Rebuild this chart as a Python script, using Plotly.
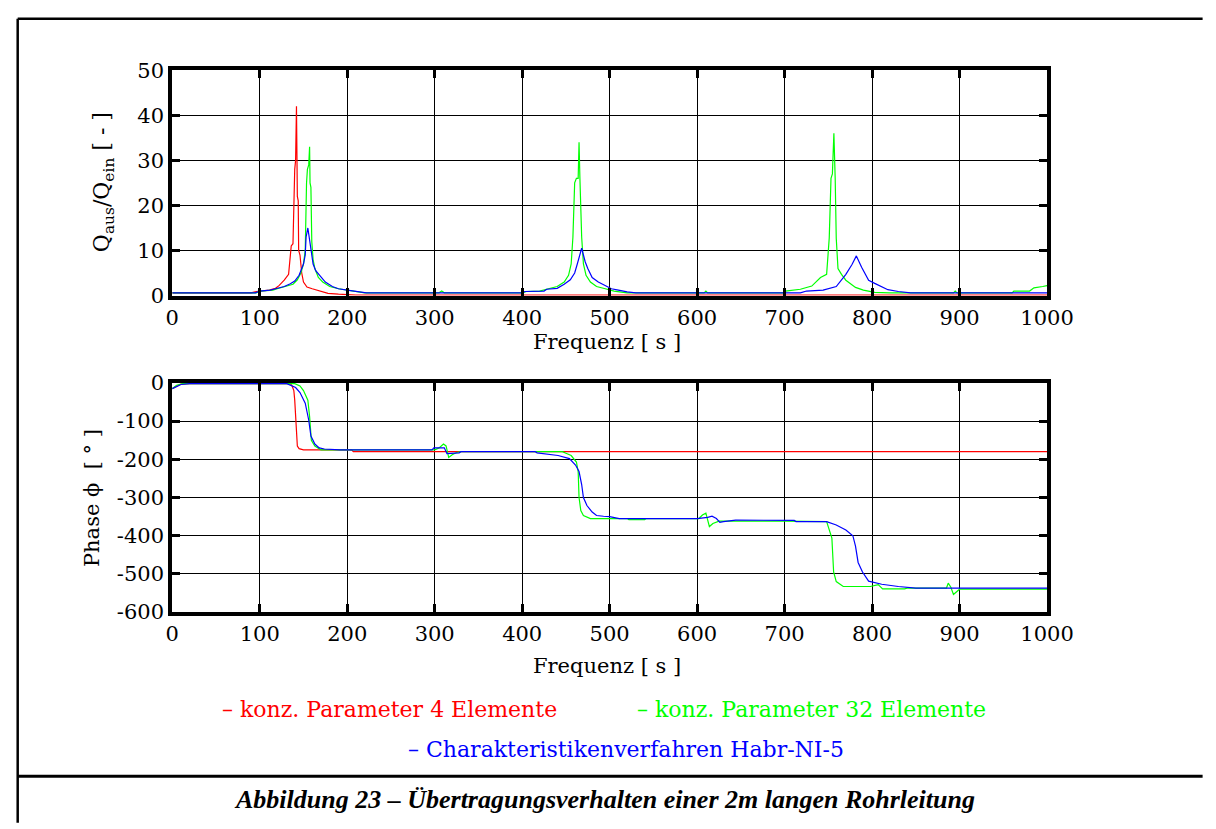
import plotly.graph_objects as go

# ---------------- data ----------------
amp_f_red = [0, 90, 96, 111, 118, 122, 128, 133, 136, 138, 140, 141, 142, 143, 144, 144.5, 146, 148, 150, 154, 160, 167, 178, 190, 210, 1000]
amp_red = [0.6, 0.6, 0.9, 1.2, 1.6, 2.2, 3.4, 4.7, 11, 11.5, 28, 30, 42, 22, 21, 10, 9, 5, 3, 1.9, 1.5, 1.1, 0.5, 0.3, 0.1, 0.1]

amp_f_green = [0, 96, 100, 115, 120, 130, 138, 143, 147, 150, 152, 153.5, 154.5, 156, 157, 157.5, 158.5, 159.5, 161, 163, 167, 172, 180, 190, 200, 210, 220,
               305, 308, 311, 400, 405, 420, 430, 440, 448, 453, 456, 458, 460, 462, 464, 465, 466, 468, 470, 473, 478, 485, 495, 505, 520,
               608, 610, 612, 700, 701, 718, 731, 741, 748, 751, 753, 754.6, 756.3, 757.8, 759, 761, 765, 770, 781, 790, 803, 820,
               893, 895, 897, 960, 962, 980, 985, 995, 1000]
amp_green = [0.6, 0.6, 1.0, 1.2, 1.5, 2.0, 2.5, 3.5, 5, 7, 10, 25, 28, 29, 33, 25, 24, 12, 8, 6, 4, 3, 2, 1.5, 1.2, 0.8, 0.6,
             0.6, 1.0, 0.6, 0.6, 0.9, 1.0, 1.5, 2.0, 3.0, 4.5, 7, 13, 25, 26, 26, 34, 26, 13, 7, 4.5, 3, 2, 1.5, 1.0, 0.6,
             0.6, 1.0, 0.6, 0.6, 1.0, 1.4, 2.1, 4.0, 4.7, 12.8, 26, 27, 36, 26, 12.7, 6, 4.7, 3.4, 1.8, 1.2, 0.7, 0.6,
             0.6, 1.0, 0.6, 0.6, 1.0, 1.0, 1.7, 2.0, 2.2]

amp_f_blue = [0, 95, 100, 112, 118, 128, 135, 140, 145, 150, 152, 153, 155, 157, 159, 161, 164, 168, 175, 183, 190, 200, 212, 222,
              400, 403, 425, 428, 440, 448, 455, 460, 463, 466, 468, 470, 472, 475, 480, 487, 495, 502, 510, 520, 530,
              718, 725, 744, 759, 770, 777, 782, 788, 796, 803, 818, 830, 844, 1000]
amp_blue = [0.6, 0.6, 1.0, 1.2, 1.5, 2.0, 2.6, 3.2, 4.5, 7, 9, 13, 15, 12.5, 10, 7, 5.5, 4.5, 3, 2, 1.5, 1.2, 0.8, 0.6,
            0.6, 0.9, 1.0, 1.4, 1.6, 2.5, 3.5, 5, 7, 9.5, 10.5, 9, 7.5, 6, 4, 3, 2.2, 1.5, 1.2, 0.8, 0.6,
            0.6, 1.0, 1.2, 2.0, 4.7, 6.9, 8.8, 6.3, 3.4, 2.7, 1.3, 0.9, 0.6, 0.6]

ph_f_red = [0, 5, 10, 20, 135, 137, 139, 140, 141, 142, 143, 145, 150, 205, 207, 1000]
ph_red = [-15, -8, -3, -2, -2, -8, -20, -45, -90, -148, -165, -172, -175, -175, -180, -180]

ph_f_green = [0, 5, 12, 140, 146, 150, 155, 157, 159, 163, 170, 300, 305, 310, 313, 316, 320, 325, 330, 446, 450, 456, 462, 464, 465, 467, 470, 478,
              520, 522, 540, 542, 602, 606, 610, 614, 618, 625, 700, 748, 754, 756, 759, 767, 798, 803, 807, 812, 837, 840, 885, 887, 890, 893,
              897, 900, 1000]
ph_green = [-15, -6, -2, -2, -8, -20, -45, -88, -150, -165, -175, -175, -170, -160, -165, -195, -188, -182, -180, -180, -184, -190, -207, -232, -300, -334, -347, -355,
            -355, -358, -358, -355, -355, -346, -341, -376, -368, -362, -362, -363, -406, -495, -520, -533, -533, -530, -528, -539, -539, -537, -537, -524, -535, -554,
            -545, -540, -540]

ph_f_blue = [0, 5, 10, 20, 131, 141, 146, 152, 156, 158.5, 163, 168, 174, 192, 297, 299, 311, 314, 328, 330, 415, 417, 441, 454, 461, 465, 468, 470, 474,
             480, 485, 493, 500, 511, 600, 612, 617, 622, 626, 630, 644, 711, 713, 748, 759, 770, 778, 781, 784, 789, 796, 811, 830, 850, 1000]
ph_blue = [-15, -10, -4, -2, -2, -12, -25, -53, -97, -139, -160, -170, -173, -175, -175, -170, -170, -185, -183, -180, -180, -183, -190, -198, -215, -232, -266, -300, -321,
           -338, -347, -349, -350, -355, -355, -352, -349, -355, -365, -363, -359, -360, -363, -363, -372, -385, -400, -427, -470, -495, -519, -527, -533, -537, -537]

x_ticks = [0, 100, 200, 300, 400, 500, 600, 700, 800, 900, 1000]
x_tick_text = ["0", "100", "200", "300", "400", "500", "600", "700", "800", "900", "1000"]
amp_ticks = [0, 10, 20, 30, 40, 50]
amp_tick_text = ["0", "10", "20", "30", "40", "50"]
ph_ticks = [-600, -500, -400, -300, -200, -100, 0]
ph_tick_text = ["-600", "-500", "-400", "-300", "-200", "-100", "0"]

series_names = ["konz. Parameter 4 Elemente", "konz. Parameter 32 Elemente", "Charakteristikenverfahren Habr-NI-5"]
series_colors = ["#ff0000", "#00ff00", "#0000ff"]

# ---------------- layout helpers ----------------
W, H = 1216, 829
SERIF = "DejaVu Serif"
TIMES = "Liberation Serif"


def px(x):
    return x / W


def py(y):
    return 1 - y / H


fig = go.Figure()

amp_sets = [(amp_f_red, amp_red), (amp_f_green, amp_green), (amp_f_blue, amp_blue)]
ph_sets = [(ph_f_red, ph_red), (ph_f_green, ph_green), (ph_f_blue, ph_blue)]
for (fx, fy), name, col in zip(amp_sets, series_names, series_colors):
    fig.add_trace(go.Scatter(x=fx, y=fy, mode="lines", name=name, line=dict(color=col, width=1.2),
                             xaxis="x", yaxis="y", showlegend=False))
for (fx, fy), name, col in zip(ph_sets, series_names, series_colors):
    fig.add_trace(go.Scatter(x=fx, y=fy, mode="lines", name=name, line=dict(color=col, width=1.2),
                             xaxis="x2", yaxis="y2", showlegend=False))

axis_common = dict(showline=True, linecolor="black", linewidth=4, mirror="ticks",
                   ticks="inside", ticklen=8, tickwidth=3, tickcolor="black",
                   showgrid=True, gridcolor="black", gridwidth=1, zeroline=False,
                   tickfont=dict(family=SERIF, size=21, color="black"))

fig.update_layout(
    width=W, height=H,
    margin=dict(l=0, r=0, t=0, b=0),
    paper_bgcolor="white", plot_bgcolor="white",
    xaxis=dict(domain=[px(170), px(1070)], range=[0, 1000], anchor="y",
               tickvals=x_ticks, ticktext=x_tick_text, **axis_common),
    yaxis=dict(domain=[py(292), py(60)], range=[0, 50], anchor="x",
               tickvals=amp_ticks, ticktext=amp_tick_text, **axis_common),
    xaxis2=dict(domain=[px(170), px(1070)], range=[0, 1000], anchor="y2",
                tickvals=x_ticks, ticktext=x_tick_text, **axis_common),
    yaxis2=dict(domain=[py(618), py(382)], range=[-600, 0], anchor="x2",
                tickvals=ph_ticks, ticktext=ph_tick_text, **axis_common),
)

ann = []
ann.append(dict(text="Frequenz [ s ]", x=px(617), y=py(340), font=dict(size=21, family=SERIF)))
ann.append(dict(text="Frequenz [ s ]", x=px(617), y=py(673), font=dict(size=21, family=SERIF)))
ann.append(dict(text="Q<sub>aus</sub>/Q<sub>ein</sub> [ - ]", x=px(100), y=py(175), textangle=-90,
                font=dict(size=22, family=SERIF)))
ann.append(dict(text="Phase \u03d5  [ \u00b0 ]", x=px(88), y=py(501), textangle=-90, font=dict(size=21, family=SERIF)))
ann.append(dict(text="\u2013 " + series_names[0], x=px(394), y=py(718), font=dict(size=22, family=SERIF, color=series_colors[0])))
ann.append(dict(text="\u2013 " + series_names[1], x=px(828), y=py(718), font=dict(size=22, family=SERIF, color=series_colors[1])))
ann.append(dict(text="\u2013 " + series_names[2], x=px(637), y=py(759), font=dict(size=22, family=SERIF, color=series_colors[2])))
ann.append(dict(text="<b><i>Abbildung 23 \u2013 \u00dcbertragungsverhalten einer 2m langen Rohrleitung</i></b>",
                x=px(615), y=py(811), font=dict(size=26, family=TIMES)))
for a in ann:
    a.update(xref="paper", yref="paper", showarrow=False, xanchor="center", yanchor="middle")
    a["font"].setdefault("color", "black")
fig.update_layout(annotations=ann)

shapes = [
    dict(type="line", x0=px(11), x1=px(11), y0=py(7), y1=py(835), line=dict(color="black", width=2.5)),
    dict(type="line", x0=px(11), x1=px(1230), y0=py(7), y1=py(7), line=dict(color="black", width=2.5)),
    dict(type="line", x0=px(11), x1=px(1230), y0=py(787), y1=py(787), line=dict(color="black", width=3)),
]
for s in shapes:
    s.update(xref="paper", yref="paper")
fig.update_layout(shapes=shapes)

fig.write_html("out.html")
